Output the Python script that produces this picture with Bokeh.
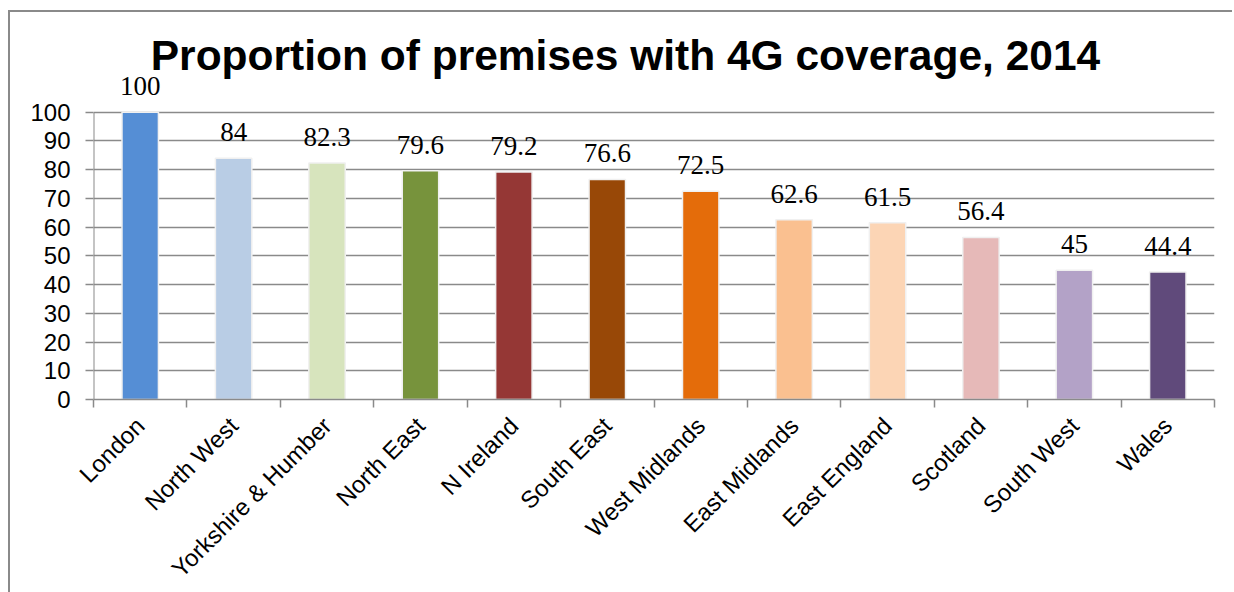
import math
from bokeh.plotting import figure
from bokeh.models import ColumnDataSource, LabelSet, FixedTicker, Label
from bokeh.embed import file_html
from bokeh.resources import INLINE

title_text = "Proportion of premises with 4G coverage, 2014"
regions = ["London", "North West", "Yorkshire & Humber", "North East", "N Ireland",
           "South East", "West Midlands", "East Midlands", "East England", "Scotland",
           "South West", "Wales"]
coverage = [100, 84, 82.3, 79.6, 79.2, 76.6, 72.5, 62.6, 61.5, 56.4, 45, 44.4]
labels = ["100", "84", "82.3", "79.6", "79.2", "76.6", "72.5", "62.6", "61.5", "56.4", "45", "44.4"]
colors = ["#558ED5", "#B9CDE5", "#D7E4BD", "#77933C", "#953735", "#984807",
          "#E46C0A", "#FAC090", "#FCD5B5", "#E6B9B8", "#B3A2C7", "#604A7B"]
y_ticks = [0, 10, 20, 30, 40, 50, 60, 70, 80, 90, 100]

n = len(regions)
xs = [i + 0.5 for i in range(n)]
src = ColumnDataSource(dict(x=xs, top=coverage, color=colors, label=labels))

# frame extends to the top of the canvas so the title and the "100" label sit inside it
p = figure(width=1224, height=582, x_range=(0, n), y_range=(0, 134.7),
           output_backend="svg", toolbar_location=None,
           min_border_left=83, min_border_right=20, min_border_top=0, min_border_bottom=192)
p.margin = (10, 0, 0, 8)
p.styles = {"border-top": "2px solid #8a8a8a", "border-left": "2px solid #8a8a8a"}
p.outline_line_color = None
p.background_fill_color = "white"

title = Label(x=532, y=344, x_units="screen", y_units="screen", text=title_text,
              text_align="center", text_baseline="alphabetic",
              text_font="Liberation Sans", text_font_size="42.5px", text_font_style="bold",
              text_color="black")
p.add_layout(title)

p.vbar(x="x", top="top", width=0.39, fill_color="color", line_color="#f0f0f0",
       line_width=1.5, source=src)

lbl = LabelSet(x="x", y="top", text="label", source=src, text_align="center",
               text_baseline="alphabetic", y_offset=17, text_font="Liberation Serif",
               text_font_size="27px", text_color="black")
p.add_layout(lbl)

# y axis line drawn only up to the top tick
p.segment(x0=[0], y0=[y_ticks[0]], x1=[0], y1=[y_ticks[-1]], line_color="#8a8a8a", line_width=2)

# grid
p.xgrid.grid_line_color = None
p.ygrid.grid_line_color = "#8a8a8a"
p.ygrid.grid_line_width = 1.5
p.ygrid.ticker = FixedTicker(ticks=y_ticks)

# y axis
p.yaxis.ticker = FixedTicker(ticks=y_ticks)
p.yaxis.axis_line_color = None
p.yaxis.major_tick_line_color = "#8a8a8a"
p.yaxis.major_tick_line_width = 1.5
p.yaxis.major_tick_out = 8
p.yaxis.major_tick_in = 0
p.yaxis.minor_tick_line_color = None
p.yaxis.major_label_text_font = "Liberation Sans"
p.yaxis.major_label_text_font_size = "24px"
p.yaxis.major_label_text_color = "black"
p.yaxis.major_label_standoff = 15

# x axis: labels at centres, ticks at boundaries
p.xaxis.ticker = FixedTicker(ticks=xs, minor_ticks=list(range(n + 1)))
p.xaxis.major_label_overrides = {x: r for x, r in zip(xs, regions)}
p.xaxis.major_label_orientation = math.pi / 4
p.xaxis.major_label_text_font = "Liberation Sans"
p.xaxis.major_label_text_font_size = "24px"
p.xaxis.major_label_text_color = "black"
p.xaxis.major_label_standoff = 14
p.xaxis.major_tick_line_color = None
p.xaxis.minor_tick_line_color = "#8a8a8a"
p.xaxis.minor_tick_line_width = 1.5
p.xaxis.minor_tick_out = 8
p.xaxis.minor_tick_in = 0
p.xaxis.axis_line_color = "#8a8a8a"
p.xaxis.axis_line_width = 1.5

open("out.html", "w").write(file_html(p, INLINE))
